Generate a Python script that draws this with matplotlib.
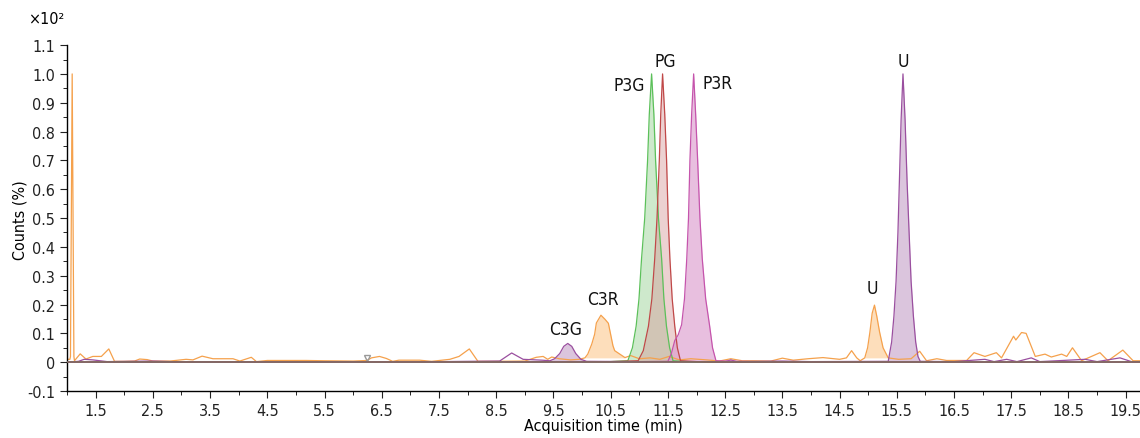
import numpy as np
import matplotlib
matplotlib.use('Agg')
import matplotlib.pyplot as plt
from matplotlib.ticker import MultipleLocator, FuncFormatter

plt.rcParams['font.family'] = ['DejaVu Sans']
plt.rcParams['font.stretch'] = 'condensed'

# ---------------- data (time in min, counts as fraction of 10^2 %) ----------------
orange_t = [1.0, 1.05, 1.06, 1.09, 1.12, 1.13, 1.23, 1.33, 1.45, 1.6, 1.73, 1.83, 2.0, 2.18,
            2.27, 2.4, 2.5, 2.8, 3.08, 3.2, 3.36, 3.55, 3.9, 4.02, 4.22, 4.31, 4.5, 5.18, 5.5,
            6.0, 6.24, 6.32, 6.46, 6.58, 6.69, 6.8, 7.16, 7.37, 7.69, 7.85, 8.03, 8.18, 8.5,
            9.0, 9.2, 9.32, 9.4, 9.47, 9.6, 9.8, 9.95, 10.05, 10.1, 10.17, 10.22, 10.25, 10.33,
            10.40, 10.46, 10.54, 10.57, 10.75, 10.85, 11.0, 11.19, 11.36, 11.52, 11.7, 11.9,
            12.18, 12.4, 12.6, 12.8, 13.0, 13.3, 13.5, 13.69, 13.95, 14.21, 14.5, 14.62, 14.71,
            14.8, 14.86, 14.94, 14.99, 15.03, 15.07, 15.11, 15.15, 15.2, 15.26, 15.35, 15.53,
            15.75, 15.9, 16.02, 16.2, 16.37, 16.72, 16.85, 17.04, 17.24, 17.33, 17.54, 17.58,
            17.68, 17.76, 17.92, 18.09, 18.2, 18.38, 18.47, 18.57, 18.73, 19.05, 19.19, 19.45,
            19.63, 19.75]
orange_v = [0.01, 0.01, 0.02, 1.0, 0.02, 0.005, 0.029, 0.011, 0.02, 0.02, 0.046, 0.003, 0.003, 0.004,
            0.011, 0.009, 0.004, 0.004, 0.01, 0.008, 0.021, 0.012, 0.012, 0.004, 0.017, 0.002, 0.006, 0.006, 0.005,
            0.004, 0.006, 0.015, 0.02, 0.013, 0.003, 0.007, 0.007, 0.003, 0.01, 0.02, 0.046, 0.003, 0.003,
            0.004, 0.017, 0.02, 0.01, 0.018, 0.012, 0.008, 0.01, 0.015, 0.028, 0.063, 0.097, 0.136, 0.163,
            0.149, 0.135, 0.057, 0.04, 0.016, 0.023, 0.012, 0.015, 0.01, 0.02, 0.008, 0.012,
            0.008, 0.004, 0.012, 0.005, 0.005, 0.004, 0.014, 0.007, 0.012, 0.016, 0.01, 0.015, 0.04,
            0.015, 0.005, 0.015, 0.05, 0.104, 0.17, 0.198, 0.16, 0.104, 0.05, 0.015, 0.01,
            0.012, 0.038, 0.005, 0.012, 0.006, 0.006, 0.033, 0.02, 0.033, 0.015, 0.09, 0.077,
            0.103, 0.1, 0.02, 0.028, 0.018, 0.028, 0.02, 0.05, 0.005, 0.033, 0.005, 0.042,
            0.005, 0.005]

purple_t = [1.0, 1.2, 1.3, 1.45, 1.7, 2.5, 3.0, 5.0, 7.0, 8.56, 8.77, 8.97, 9.3, 9.44, 9.52, 9.61,
            9.68, 9.75, 9.82, 9.89, 9.98, 10.08, 11.0, 12.5, 12.6, 12.7, 13.5, 14.0, 15.35, 15.41,
            15.45, 15.487, 15.52, 15.545, 15.575, 15.608, 15.645, 15.68, 15.715, 15.75, 15.79,
            15.83, 15.87, 15.91, 16.5, 17.04, 17.2, 17.42, 17.6, 17.85, 18.0, 18.79, 19.0, 19.4,
            19.6, 19.75]
purple_v = [0.0, 0.003, 0.01, 0.008, 0.002, 0.004, 0.001, 0.002, 0.001, 0.004, 0.032, 0.01, 0.007, 0.005, 0.012, 0.03,
            0.055, 0.065, 0.055, 0.03, 0.01, 0.003, 0.002, 0.002, 0.008, 0.002, 0.004, 0.002, 0.003, 0.07,
            0.16, 0.28, 0.45, 0.625, 0.84, 1.0, 0.84, 0.625, 0.45, 0.28, 0.16,
            0.07, 0.02, 0.003, 0.002, 0.01, 0.002, 0.01, 0.002, 0.015, 0.002, 0.01, 0.002, 0.015,
            0.002, 0.002]

green_t = [1.0, 10.5, 10.80, 10.88, 10.945, 10.995, 11.04, 11.095, 11.145, 11.175, 11.215, 11.255,
           11.285, 11.335, 11.39, 11.43, 11.475, 11.53, 11.59, 12.0, 19.75]
green_v = [0.0, 0.002, 0.005, 0.05, 0.125, 0.22, 0.36, 0.5, 0.7, 0.86, 1.0, 0.86,
           0.7, 0.5, 0.36, 0.22, 0.125, 0.05, 0.005, 0.0, 0.0]

red_t = [1.0, 10.5, 10.98, 11.07, 11.16, 11.22, 11.27, 11.31, 11.35, 11.375, 11.407, 11.445, 11.477,
         11.505, 11.535, 11.575, 11.62, 11.665, 11.72, 12.2, 19.75]
red_v = [0.0, 0.002, 0.005, 0.04, 0.125, 0.22, 0.36, 0.5, 0.7, 0.86, 1.0, 0.86, 0.7,
         0.5, 0.36, 0.22, 0.125, 0.05, 0.005, 0.0, 0.0]

magenta_t = [1.0, 11.0, 11.5, 11.56, 11.62, 11.68, 11.74, 11.79, 11.83, 11.86, 11.885, 11.915, 11.95,
             11.985, 12.02, 12.06, 12.1, 12.16, 12.23, 12.28, 12.34, 13.0, 19.75]
magenta_v = [0.0, 0.002, 0.003, 0.03, 0.075, 0.095, 0.13, 0.22, 0.36, 0.5, 0.7, 0.86, 1.0,
             0.86, 0.7, 0.5, 0.36, 0.22, 0.125, 0.05, 0.005, 0.002, 0.0]

# filled peak windows (start, end, fill floor)
orange_fills = [(10.05, 10.75, 0.015), (14.94, 15.35, 0.015)]
purple_fills = [(9.44, 10.08, 0.0), (15.35, 15.91, 0.0)]

labels = ['C3G', 'C3R', 'P3G', 'PG', 'P3R', 'U', 'U']
label_t = [9.72, 10.36, 10.82, 11.45, 12.36, 15.08, 15.61]
label_v = [0.115, 0.219, 0.962, 1.045, 0.97, 0.257, 1.045]

# ---------------- plot ----------------
fig = plt.figure(figsize=(11.4, 4.39), dpi=100)
ax = fig.add_axes([0.0588, 0.107, 0.9412, 0.788])


def trace(t, v, line, fill, fills=None, alpha=0.45):
    t = np.array(t)
    v = np.array(v)
    if fills is None:
        ax.fill_between(t, v, 0, color=fill, alpha=alpha, lw=0)
    else:
        for a, b, floor in fills:
            m = (t >= a) & (t <= b)
            ax.fill_between(t[m], v[m], floor, color=fill, alpha=alpha, lw=0)
    ax.plot(t, v, color=line, lw=0.9)


trace(orange_t, orange_v, '#f5a14c', '#fcc88f', orange_fills, alpha=0.6)
trace(purple_t, purple_v, '#9a4f9f', '#b98dbc', purple_fills, alpha=0.5)
trace(green_t, green_v, '#5cc05a', '#9fd49a', alpha=0.5)
trace(red_t, red_v, '#c04848', '#d59a9a', alpha=0.45)
trace(magenta_t, magenta_v, '#c554ac', '#dc9dcf', alpha=0.65)

ax.axhline(0, color='#7f6a62', lw=1.3, zorder=5)
ax.plot([6.24], [0.014], marker='v', ms=5, mfc='none', mec='#999999', mew=1)

for s, x, y in zip(labels, label_t, label_v):
    ax.text(x, y, s, fontsize=12.5, ha='center', va='center', color='#111111')

ax.set_xlim(1.0, 19.75)
ax.set_ylim(-0.1, 1.1)
for side in ['top', 'right']:
    ax.spines[side].set_visible(False)
ax.spines['left'].set_linewidth(1)
ax.spines['bottom'].set_linewidth(1)

ax.xaxis.set_major_locator(MultipleLocator(1.0, offset=0.5))
ax.xaxis.set_minor_locator(MultipleLocator(1.0))
ax.yaxis.set_major_locator(MultipleLocator(0.1))
ax.yaxis.set_minor_locator(MultipleLocator(0.05))
ax.yaxis.set_major_formatter(FuncFormatter(lambda y, p: '0' if abs(y) < 1e-9 else f'{y:.1f}'))
ax.tick_params(which='major', length=5, labelsize=11.5, colors='#222222')
ax.tick_params(which='minor', length=3)

ax.set_xlabel('Acquisition time (min)', fontsize=11.5)
ax.xaxis.set_label_coords(0.4995, -0.078)
ax.set_ylabel('Counts (%)', fontsize=11.5, va='center')
ax.yaxis.set_label_coords(-0.044, 0.497)
fig.text(0.025, 0.955, '×10²', fontsize=11.5, ha='left', va='center')

fig.savefig('out.png', dpi=100)
